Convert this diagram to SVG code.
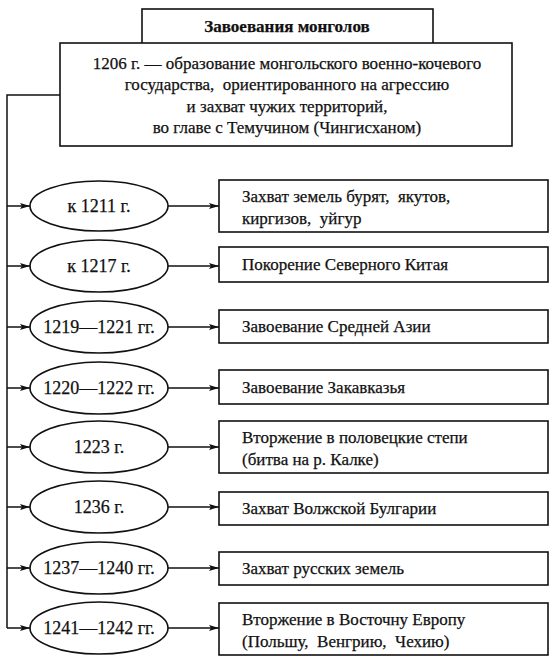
<svg xmlns="http://www.w3.org/2000/svg" width="560" height="662" viewBox="0 0 560 662">
<style>
text{font-family:'Liberation Serif','DejaVu Serif',serif;fill:#111;font-size:17px;stroke:#111;stroke-width:0.25}
.box{fill:#fff;stroke:#111;stroke-width:1.6}
.c{text-anchor:middle}
.e{font-size:18px}
.b{font-weight:bold}
.ln{fill:none;stroke:#111;stroke-width:1.5}
</style>
<defs>
<marker id="ah" viewBox="0 0 10 6" refX="10" refY="3" markerWidth="10" markerHeight="6" markerUnits="userSpaceOnUse" orient="auto">
<path d="M0,0 L10,3 L0,6 L2,3 Z" fill="#111"/>
</marker>
</defs>
<g id="title">
<rect class="box" x="142" y="9" width="291" height="40"/>
<text class="c b" x="287" y="32" font-size="16">Завоевания монголов</text>
</g>
<g id="main">
<rect class="box" x="60" y="43" width="452" height="103"/>
<text class="c" x="287" y="69">1206 г. — образование монгольского военно-кочевого</text>
<text class="c" x="287" y="90">государства,&#160; ориентированного на агрессию</text>
<text class="c" x="287" y="112">и захват чужих территорий,</text>
<text class="c" x="287" y="133">во главе с Темучином (Чингисханом)</text>
</g>
<g id="connectors">
<path class="ln" d="M60,95 H7 V628"/>
<line class="ln" x1="7" y1="206" x2="30" y2="206" marker-end="url(#ah)"/>
<line class="ln" x1="7" y1="266" x2="30" y2="266" marker-end="url(#ah)"/>
<line class="ln" x1="7" y1="327" x2="30" y2="327" marker-end="url(#ah)"/>
<line class="ln" x1="7" y1="388" x2="30" y2="388" marker-end="url(#ah)"/>
<line class="ln" x1="7" y1="447" x2="30" y2="447" marker-end="url(#ah)"/>
<line class="ln" x1="7" y1="507" x2="30" y2="507" marker-end="url(#ah)"/>
<line class="ln" x1="7" y1="568" x2="30" y2="568" marker-end="url(#ah)"/>
<line class="ln" x1="7" y1="628" x2="30" y2="628" marker-end="url(#ah)"/>
<line class="ln" x1="168" y1="206" x2="219" y2="206" marker-end="url(#ah)"/>
<line class="ln" x1="168" y1="266" x2="219" y2="266" marker-end="url(#ah)"/>
<line class="ln" x1="168" y1="327" x2="219" y2="327" marker-end="url(#ah)"/>
<line class="ln" x1="168" y1="388" x2="219" y2="388" marker-end="url(#ah)"/>
<line class="ln" x1="168" y1="447" x2="219" y2="447" marker-end="url(#ah)"/>
<line class="ln" x1="168" y1="507" x2="219" y2="507" marker-end="url(#ah)"/>
<line class="ln" x1="168" y1="568" x2="219" y2="568" marker-end="url(#ah)"/>
<line class="ln" x1="168" y1="628" x2="219" y2="628" marker-end="url(#ah)"/>
</g>
<g id="e1"><ellipse class="box" cx="99" cy="206" rx="69" ry="25"/><text class="c e" x="99" y="212">к 1211 г.</text></g>
<g id="e2"><ellipse class="box" cx="99" cy="266" rx="69" ry="26"/><text class="c e" x="99" y="272">к 1217 г.</text></g>
<g id="e3"><ellipse class="box" cx="99" cy="327" rx="69" ry="26"/><text class="c e" x="99" y="333">1219—1221 гг.</text></g>
<g id="e4"><ellipse class="box" cx="99" cy="388" rx="69" ry="26"/><text class="c e" x="99" y="394">1220—1222 гг.</text></g>
<g id="e5"><ellipse class="box" cx="99" cy="447" rx="69" ry="26"/><text class="c e" x="99" y="453">1223 г.</text></g>
<g id="e6"><ellipse class="box" cx="99" cy="507" rx="69" ry="26"/><text class="c e" x="99" y="513">1236 г.</text></g>
<g id="e7"><ellipse class="box" cx="99" cy="568" rx="69" ry="26"/><text class="c e" x="99" y="574">1237—1240 гг.</text></g>
<g id="e8"><ellipse class="box" cx="99" cy="628" rx="69" ry="26"/><text class="c e" x="99" y="634">1241—1242 гг.</text></g>
<g id="r1"><rect class="box" x="219" y="180" width="329" height="52"/><text x="242" y="202">Захват земель бурят,&#160; якутов,</text><text x="242" y="224">киргизов,&#160; уйгур</text></g>
<g id="r2"><rect class="box" x="219" y="247" width="329" height="35"/><text x="242" y="270">Покорение Северного Китая</text></g>
<g id="r3"><rect class="box" x="219" y="310" width="329" height="33"/><text x="242" y="332">Завоевание Средней Азии</text></g>
<g id="r4"><rect class="box" x="219" y="370" width="329" height="34"/><text x="242" y="393">Завоевание Закавказья</text></g>
<g id="r5"><rect class="box" x="219" y="421" width="329" height="52"/><text x="242" y="443">Вторжение в половецкие степи</text><text x="242" y="465">(битва на р. Калке)</text></g>
<g id="r6"><rect class="box" x="219" y="492" width="329" height="33"/><text x="242" y="514">Захват Волжской Булгарии</text></g>
<g id="r7"><rect class="box" x="219" y="552" width="329" height="33"/><text x="242" y="574">Захват русских земель</text></g>
<g id="r8"><rect class="box" x="219" y="603" width="329" height="52"/><text x="242" y="625">Вторжение в Восточну Европу</text><text x="242" y="647">(Польшу,&#160; Венгрию,&#160; Чехию)</text></g>
</svg>
